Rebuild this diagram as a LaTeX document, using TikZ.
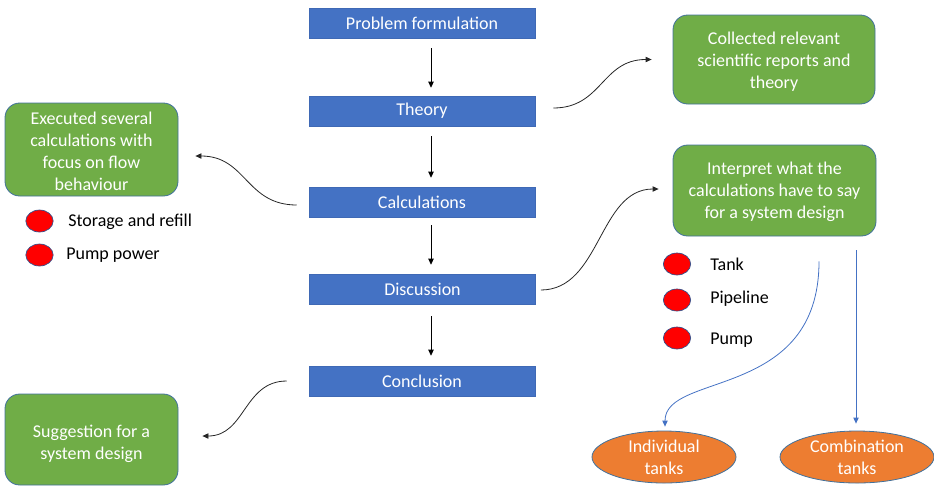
\documentclass[tikz,border=0pt]{standalone}
\usepackage{fontspec}
\setmainfont{Carlito}
\usetikzlibrary{calc,arrows.meta,shapes.geometric}
\definecolor{stepblue}{HTML}{4472C4}
\definecolor{stepedge}{HTML}{3F69B5}
\definecolor{notegreen}{HTML}{70AD47}
\definecolor{noteedge}{HTML}{41719C}
\definecolor{outorange}{HTML}{ED7D31}
\definecolor{dotedge}{HTML}{2F528F}
% taller first line: moves a text block a little down inside its box
\newcommand{\linedrop}[1]{\rule{0pt}{#1}}
\begin{document}
\begin{tikzpicture}[x=0.75pt,y=-0.75pt,
  every node/.style={font=\fontsize{13.5}{16.5}\selectfont, inner sep=0pt},
  stepbox/.style={fill=stepblue, draw=stepedge, line width=0.4pt, text=white,
    minimum width=169.5pt, minimum height=22.5pt},
  notebox/.style={fill=notegreen, draw=noteedge, line width=0.6pt,
    rounded corners=11pt, text=white, align=center},
  reddot/.style={ellipse, fill=red, draw=dotedge, line width=0.5pt,
    minimum width=20.5pt, minimum height=16.5pt},
  outcome/.style={ellipse, fill=outorange, draw=noteedge, line width=0.6pt,
    text=white, align=center},
  itemlabel/.style={anchor=west, text=black},
  flow/.style={-{Triangle[length=4.5pt,width=4pt]}, line width=0.6pt, black},
  curve/.style={-{Triangle[length=4.5pt,width=4pt]}, line width=0.6pt, black!85},
  link/.style={-{Triangle[length=4.5pt,width=4pt]}, line width=0.6pt, stepblue}
]
\useasboundingbox (0,0) rectangle (934,487);

% main process steps
\node[stepbox] (pf) at (422,23)    {Problem formulation};
\node[stepbox] (th) at (422,111)   {Theory};
\node[stepbox] (ca) at (422,202)   {Calculations};
\node[stepbox] (di) at (422.5,289) {Discussion};
\node[stepbox] (co) at (422,381)   {Conclusion};

% outcomes of each step
\node[notebox, minimum width=151.5pt, minimum height=66.75pt] (col) at (774,59.5)
  {\linedrop{12.5pt}Collected relevant\\scientific reports and\\theory};
\node[notebox, minimum width=129.75pt, minimum height=69.75pt] (exe) at (91.5,149.5)
  {\linedrop{11.5pt}Executed several\\calculations with\\focus on flow\\behaviour};
\node[notebox, minimum width=152.25pt, minimum height=68.25pt] (int) at (774.5,190.5)
  {\linedrop{12pt}Interpret what the\\calculations have to say\\for a system design};
\node[notebox, minimum width=129.75pt, minimum height=68.25pt] (sug) at (91.5,439.5)
  {\linedrop{15.5pt}Suggestion for a\\system design};

% bullet items
\node[reddot] (d1) at (39.5,221) {};
\node[itemlabel] (l1) at (68,222) {Storage and refill};
\node[reddot] (d2) at (39.5,255) {};
\node[itemlabel] (l2) at (66,255) {Pump power};
\node[reddot] (d3) at (677,264) {};
\node[itemlabel] (l3) at (710,264) {Tank};
\node[reddot] (d4) at (677,300) {};
\node[itemlabel] (l4) at (710,299) {Pipeline};
\node[reddot] (d5) at (677,338) {};
\node[itemlabel] (l5) at (710,340) {Pump};

% design alternatives
\node[outcome, minimum width=108pt, minimum height=39pt] (ind) at (664,457)
  {Individual\\tanks};
\node[outcome, minimum width=115.5pt, minimum height=39pt] (cmb) at (857,457)
  {Combination\\tanks};

% flow between steps
\draw[flow] ($(pf.south)+(9,10)$) -- ($(th.north)+(9,-8)$);
\draw[flow] ($(th.south)+(9,10)$) -- ($(ca.north)+(9,-9)$);
\draw[flow] ($(ca.south)+(9,8)$)  -- ($(di.north)+(8.5,-9)$);
\draw[flow] ($(di.south)+(8.5,12)$) -- ($(co.north)+(9,-10)$);

% curved links to the outcomes
\draw[curve] ($(th.east)+(18,-3)$) .. controls +(49,0) and +(-50,0) .. ($(col.west)+(-21,0)$);
\draw[curve] ($(ca.west)+(-12,3)$) .. controls +(-51,0) and +(51,0) .. ($(exe.east)+(17,6.5)$);
\draw[curve] ($(di.east)+(5,1)$) .. controls +(60,0) and +(-60,0) .. ($(int.west)+(-14,-1.5)$);
\draw[curve] ($(co.west)+(-22,0)$) .. controls +(-43,0) and +(43,0) .. ($(sug.east)+(24,-3.5)$);

% links to the design alternatives
\draw[link] ($(int.south)+(44.5,25)$) .. controls +(0,139) and +(0,-55) .. ($(ind.north)+(1,-4)$);
\draw[link] ($(int.south)+(81.5,14)$) -- ($(cmb.north)+(-1,-7)$);
\end{tikzpicture}
\end{document}
